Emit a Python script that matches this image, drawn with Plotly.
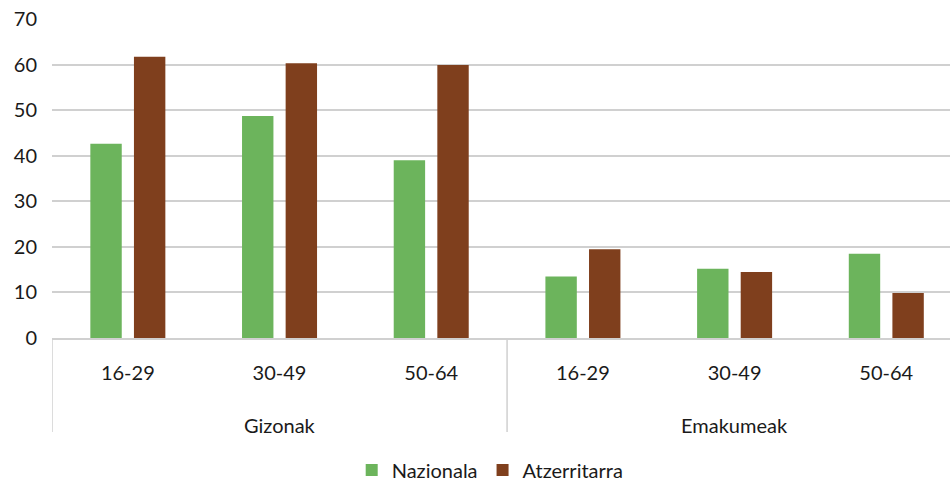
import plotly.graph_objects as go

# Categories
sexes = ['Gizonak', 'Emakumeak']
ages = ['16-29', '30-49', '50-64']

# Values (%)
nazionala = [42.6, 48.7, 39.0, 13.5, 15.2, 18.5]
atzerritarra = [61.7, 60.3, 59.9, 19.5, 14.5, 9.9]

tick_labels = ages * len(sexes)
x_pos = list(range(len(tick_labels)))

font = 'Lato'
text_color = '#1a1a1a'
line_color = '#d0d0d0'
fsize = 20

fig = go.Figure()

fig.add_trace(go.Bar(
    x=x_pos,
    y=nazionala,
    name='Nazionala',
    marker_color='#6cb45c',
    marker_line_width=0,
))

fig.add_trace(go.Bar(
    x=x_pos,
    y=atzerritarra,
    name='Atzerritarra',
    marker_color='#7f3f1d',
    marker_line_width=0,
))

# outer category labels and divider lines
n = len(ages)
for i, sex in enumerate(sexes):
    fig.add_annotation(
        x=i * n + (n - 1) / 2, y=-0.273,
        xref='x', yref='paper',
        text=sex, showarrow=False,
        yanchor='middle',
        font={'size': fsize, 'color': text_color},
    )
for i in range(len(sexes)):
    fig.add_shape(
        type='line',
        x0=i * n - 0.5, x1=i * n - 0.5,
        y0=0, y1=-0.295,
        xref='x', yref='paper',
        line={'color': line_color, 'width': 1.5},
    )

fig.update_layout({
    'width': 950,
    'height': 481,
    'margin': {'l': 52, 'r': 0, 't': 19, 'b': 143},
    'plot_bgcolor': 'white',
    'paper_bgcolor': 'white',
    'font': {'family': font, 'size': fsize, 'color': text_color},
    'barmode': 'group',
    'bargap': 0.425,
    'bargroupgap': 0.28,
    'showlegend': True,
    'legend': {
        'orientation': 'h',
        'x': 0.516, 'xref': 'container', 'xanchor': 'center',
        'y': 0.023, 'yref': 'container', 'yanchor': 'middle',
        'font': {'size': fsize},
        'traceorder': 'normal',
    },
    'yaxis': {
        'range': [0, 70],
        'dtick': 10,
        'showgrid': True,
        'gridcolor': line_color,
        'gridwidth': 1.5,
        'zeroline': False,
        'showline': False,
        'ticks': '',
        'ticklabelstandoff': 14,
        'automargin': False,
    },
    'xaxis': {
        # the last category runs slightly past the right edge, as in the original
        'range': [-0.5, len(tick_labels) - 0.58],
        'tickvals': x_pos,
        'ticktext': tick_labels,
        'showgrid': False,
        'zeroline': False,
        'showline': True,
        'linecolor': line_color,
        'linewidth': 1.5,
        'ticks': '',
        'tickangle': 0,
        'ticklabelstandoff': 16,
        'automargin': False,
    },
})

# remove the default page margin so the chart sits at the window's corner
fig.write_html("out.html", config={'displayModeBar': False},
               post_script="document.body.style.margin='0';")
